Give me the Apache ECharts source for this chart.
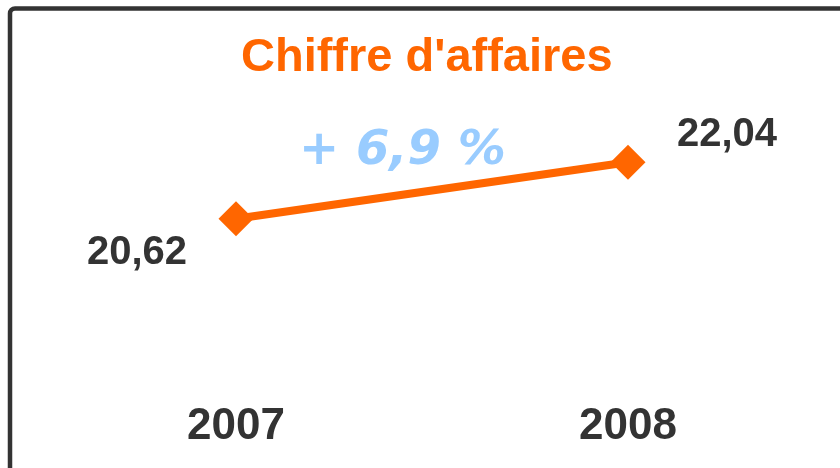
<!DOCTYPE html>
<html>
<head>
<meta charset="utf-8">
<script src="https://cdn.jsdelivr.net/npm/echarts@6/dist/echarts.min.js"></script>
<style>html,body{margin:0;padding:0;background:#fff;}#c{width:840px;height:468px;}</style>
</head>
<body>
<div id="c"></div>
<script>
const titleText = "Chiffre d'affaires";
const categories = ['2007', '2008'];
const revenue = [20.62, 22.04];
const growthLabel = '+ 6,9 %';

const fmt = v => v.toFixed(2).replace('.', ',');
const chart = echarts.init(document.getElementById('c'), null, {renderer: 'canvas'});
chart.setOption({
  animation: false,
  backgroundColor: '#ffffff',
  title: {
    text: titleText,
    left: 236,
    top: 30,
    textStyle: {fontFamily: 'Liberation Sans', fontWeight: 'bold', fontSize: 47, color: '#ff6600'}
  },
  grid: {left: 40, right: 16, top: 124, bottom: 105},
  xAxis: {
    type: 'category',
    data: categories,
    boundaryGap: true,
    axisLine: {show: false},
    axisTick: {show: false},
    axisLabel: {margin: 42, fontFamily: 'Liberation Sans', fontWeight: 'bold', fontSize: 44, color: '#333333'}
  },
  yAxis: {
    type: 'value',
    min: 17, max: 23,
    show: false,
    splitLine: {show: false}
  },
  graphic: [
    {
      type: 'rect',
      shape: {x: 10, y: 8.5, width: 1000, height: 1000, r: 5},
      style: {fill: 'none', stroke: '#333333', lineWidth: 4.5},
      silent: true
    },
    {
      type: 'text',
      left: 299, top: 128,
      style: {text: growthLabel, font: 'italic bold 48px "DejaVu Sans"', fill: '#99ccff'}
    }
  ],
  series: [{
    type: 'line',
    data: revenue,
    symbol: 'diamond',
    symbolSize: 35,
    lineStyle: {color: '#ff6600', width: 8},
    itemStyle: {color: '#ff6600'},
    label: {
      show: true,
      fontFamily: 'Liberation Sans', fontWeight: 'bold', fontSize: 40, color: '#333333',
      formatter: p => fmt(p.value),
      position: 'inside'
    },
    labelLayout: function (params) {
      const i = params.dataIndex;
      const r = params.rect;
      const cx = r.x + r.width / 2, cy = r.y + r.height / 2;
      if (i === 0) return {x: cx - 99, y: cy + 34, align: 'center', verticalAlign: 'middle'};
      return {x: cx + 99, y: cy - 27, align: 'center', verticalAlign: 'middle'};
    }
  }]
});
</script>
</body>
</html>
